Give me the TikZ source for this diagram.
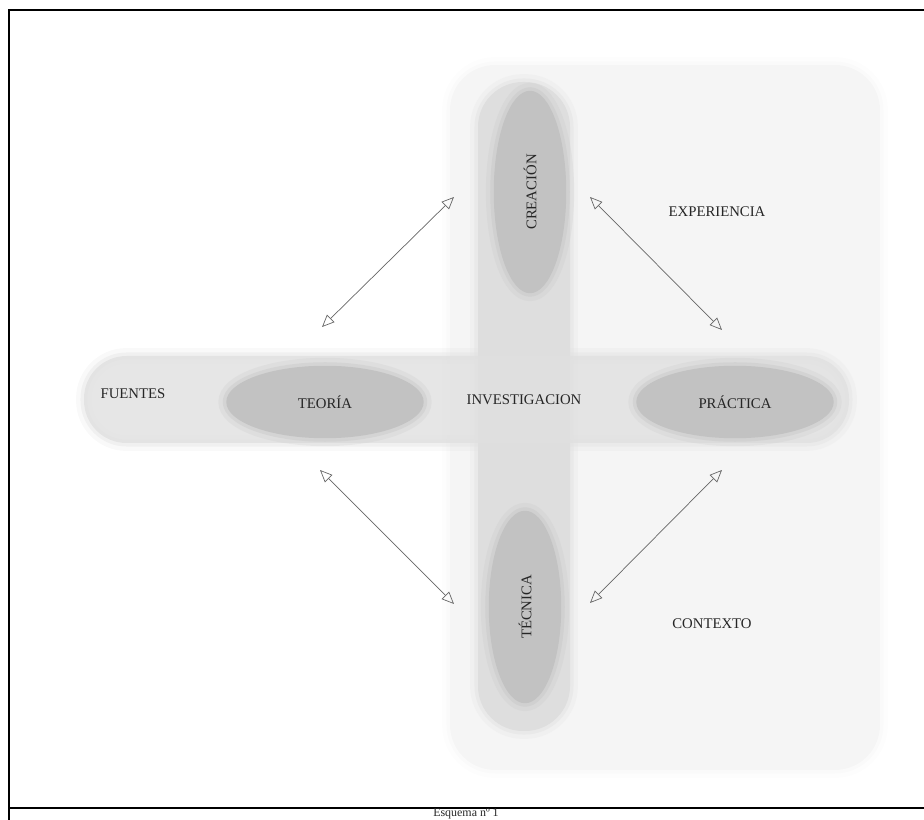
\documentclass[tikz,border=0pt]{standalone}
\usepackage{fontspec}
\setmainfont{Liberation Serif}
\usetikzlibrary{arrows.meta,shapes.geometric}

\begin{document}
\begin{tikzpicture}[x=0.02cm,y=-0.02cm,
  every node/.style={font=\fontsize{8.4}{10}\selectfont,text=black!85,inner sep=0pt},
  soft/.style={preaction={draw=#1,line width=9pt,draw opacity=.2},
    preaction={draw=#1,line width=4pt,draw opacity=.35}},
  oval/.style={ellipse,fill=black!24,soft=black!24},
  link/.style={draw=black!60,line width=.4pt,{Triangle[open,length=7pt,width=6pt]}-{Triangle[open,length=7pt,width=6pt]}}]
\useasboundingbox (0,0) rectangle (924,820);
\fill[black!4,soft=black!4,rounded corners=0.9cm] (450,65) rectangle (880,770);
\fill[black!13,soft=black!13,rounded corners=0.9cm] (478,82) rectangle (570,731);
\fill[black!12,soft=black!12,opacity=.8,rounded corners=0.85cm] (84,356) rectangle (849,443);
\node[oval,minimum width=3.95cm,minimum height=1.45cm] (teoria) at (325,402) {TEORÍA};
\node[oval,minimum width=3.95cm,minimum height=1.45cm] (practica) at (735,402) {PRÁCTICA};
\node[oval,rotate=90,minimum width=4.05cm,minimum height=1.45cm] (creacion) at (530,192) {CREACIÓN};
\node[oval,rotate=90,minimum width=3.85cm,minimum height=1.45cm] (tecnica) at (525,607) {TÉCNICA};
\node (fuentes) at (133,394) {FUENTES};
\node (investigacion) at (524,400) {INVESTIGACION};
\node (experiencia) at (717,212) {EXPERIENCIA};
\node (contexto) at (712,624) {CONTEXTO};
\coordinate (t-ne) at (322,327);
\coordinate (c-w) at (454,197);
\coordinate (c-e) at (590,197);
\coordinate (p-nw) at (722,330);
\coordinate (t-se) at (320,470);
\coordinate (k-w) at (454,604);
\coordinate (k-e) at (590,603);
\coordinate (p-sw) at (722,470);
\draw[link] (t-ne) -- (c-w);
\draw[link] (c-e) -- (p-nw);
\draw[link] (t-se) -- (k-w);
\draw[link] (k-e) -- (p-sw);
\draw[line width=1.2pt] (9,820) -- (9,10) -- (924,10);
\draw[line width=1.2pt] (9,808) -- (924,808);
\node[anchor=base,font=\fontsize{6.8}{8}\selectfont] (caption) at (466,817) {Esquema nº 1};
\end{tikzpicture}
\end{document}
